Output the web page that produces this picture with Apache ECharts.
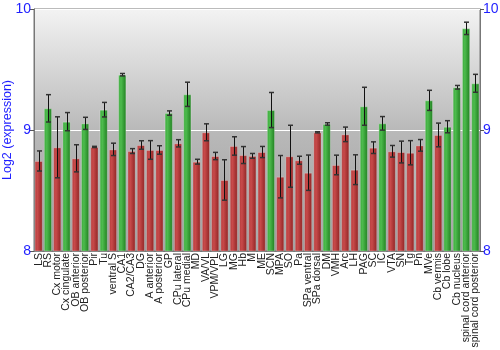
<!DOCTYPE html>
<html>
<head>
<meta charset="utf-8">
<script src="https://cdn.jsdelivr.net/npm/echarts@6/dist/echarts.min.js"></script>
<style>html,body{margin:0;padding:0;background:#fff}#c{width:500px;height:350px}</style>
</head>
<body>
<div id="c"></div>
<script>
var categories = ["LS","RS","Cx motor","Cx cingulate","OB anterior","OB posterior","Pir","Tu","ventral S","CA1","CA2/CA3","DG","A anterior","A posterior","GP","CPu lateral","CPu medial","MD","VA/VL","VPM/VPL","LG","MG","Hb","M","ME","SCN","MPA","SO","Pa","SPa ventral","SPa dorsal","DM","VMH","Arc","LH","PAG","SC","IC","VTA","SN","Tg","Pn","MVe","Cb vermis","Cb lobe","Cb nucleus","spinal cord anterior","spinal cord posterior"];
var values = [8.744,9.179,8.857,9.069,8.766,9.055,8.860,9.168,8.840,9.457,8.826,8.876,8.835,8.835,9.140,8.890,9.295,8.738,8.981,8.785,8.587,8.868,8.793,8.786,8.818,9.165,8.614,8.783,8.750,8.647,8.981,9.050,8.711,8.964,8.672,9.196,8.854,9.055,8.824,8.818,8.812,8.873,9.245,8.959,9.027,9.353,9.840,9.386];
var errors = [0.083,0.113,0.252,0.075,0.112,0.050,0.005,0.060,0.051,0.010,0.020,0.035,0.077,0.035,0.018,0.030,0.100,0.020,0.070,0.030,0.167,0.076,0.070,0.020,0.046,0.145,0.175,0.256,0.033,0.146,0.005,0.010,0.081,0.060,0.123,0.157,0.048,0.056,0.048,0.090,0.100,0.048,0.083,0.098,0.050,0.015,0.051,0.074];
var yTicks = [8, 9, 10];
var threshold = 9;

var redGrad = {type:'linear',x:0,y:0,x2:1,y2:0,colorStops:[{offset:0,color:'#b23a3a'},{offset:0.35,color:'#c84a4a'},{offset:1,color:'#8c2222'}]};
var greenGrad = {type:'linear',x:0,y:0,x2:1,y2:0,colorStops:[{offset:0,color:'#3aa83a'},{offset:0.35,color:'#4dbb4d'},{offset:1,color:'#1e7c1e'}]};

var barData = values.map(function(v){
  return {value:v, itemStyle:{color: v >= threshold ? greenGrad : redGrad}};
});
var errData = values.map(function(v,i){ return [i, v - errors[i], v + errors[i]]; });

var chart = echarts.init(document.getElementById('c'), null, {renderer:'canvas'});
var blue = '#1f1fff';
var ff = 'Liberation Sans, Arial, sans-serif';
var yAxisBase = {
  type:'value', min:yTicks[0], max:yTicks[yTicks.length-1], interval:1,
  axisLine:{show:true, lineStyle:{color:'#777'}},
  axisTick:{show:true, length:4, lineStyle:{color:'#555'}},
  axisLabel:{color:blue, fontSize:14, margin:3, fontFamily:ff},
  splitLine:{show:true, lineStyle:{color:'#ffffff', width:1}}
};
chart.setOption({
  animation:false,
  grid:{left:34, right:20, top:9, bottom:99, outerBoundsMode:'none', containLabel:false,
    show:true, borderColor:'#777', borderWidth:1,
    backgroundColor:{type:'linear',x:0,y:0,x2:0,y2:1,colorStops:[{offset:0,color:'#f3f3f3'},{offset:0.5,color:'#b9b9b9'},{offset:1,color:'#9d9d9d'}]}},
  xAxis:{type:'category', data:categories,
    axisLine:{show:true, lineStyle:{color:'#777'}}, axisTick:{show:false},
    axisLabel:{rotate:90, interval:0, fontSize:10.5, color:'#222', margin:2, fontFamily:ff}},
  yAxis:[
    Object.assign({}, yAxisBase, {position:'left', name:'Log2 (expression)', nameLocation:'middle', nameGap:20,
      nameMoveOverlap:false,
      nameTextStyle:{color:blue, fontSize:12.5, fontFamily:ff}}),
    Object.assign({}, yAxisBase, {position:'right', splitLine:{show:false}})
  ],
  series:[
    {type:'bar', data:barData, barCategoryGap:'12%',
      itemStyle:{borderColor:'rgba(255,255,255,0.25)', borderWidth:1}},
    {type:'custom', data:errData, z:5,
      renderItem:function(params, api){
        var x = api.value(0);
        var lo = api.coord([x, api.value(1)]);
        var hi = api.coord([x, api.value(2)]);
        var cx = Math.round(lo[0]) + 0.5;
        var hw = 2.5;
        return {type:'group', children:[
          {type:'line', shape:{x1:cx, y1:lo[1], x2:cx, y2:hi[1]}, style:{stroke:'#111', lineWidth:1}},
          {type:'line', shape:{x1:cx-hw, y1:hi[1], x2:cx+hw, y2:hi[1]}, style:{stroke:'#333', lineWidth:1.5}},
          {type:'line', shape:{x1:cx-hw, y1:lo[1], x2:cx+hw, y2:lo[1]}, style:{stroke:'#333', lineWidth:1.5}}
        ]};
      }}
  ]
});
</script>
</body>
</html>
